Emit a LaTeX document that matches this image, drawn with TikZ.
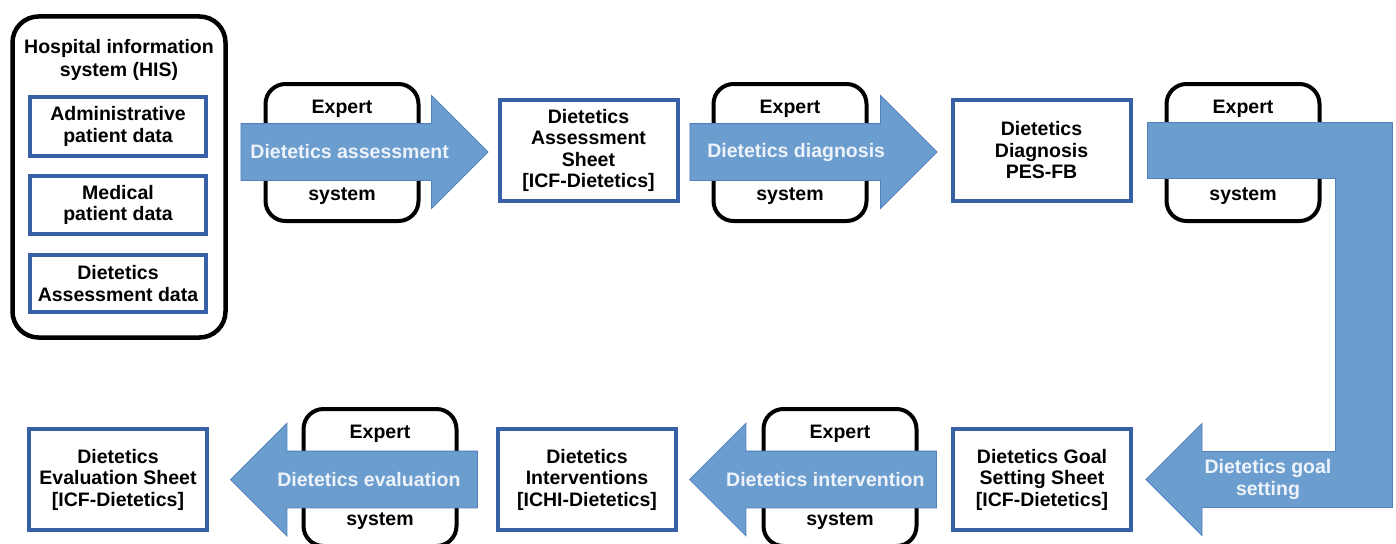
\documentclass[tikz,border=0pt]{standalone}
\usepackage{fontspec}
\setmainfont{Liberation Sans}
\usepackage{tikz}
\definecolor{dietblue}{RGB}{55, 96, 166}
\definecolor{flowblue}{RGB}{108, 157, 207}
\definecolor{flowedge}{RGB}{82, 128, 188}
\definecolor{flowtextcol}{RGB}{238, 243, 250}
\usetikzlibrary{shapes,arrows,positioning,calc}

\begin{document}
\begin{tikzpicture}[x=1pt, y=-1pt, every node/.style={font=\fontsize{19.5}{21.5}\selectfont\bfseries, align=center},
    sheet/.style={rectangle, draw=dietblue, line width=4pt, fill=white, minimum width=178pt, minimum height=101pt, inner sep=1pt},
    expert/.style={rectangle, rounded corners=20pt, draw=black, line width=4pt, fill=white, minimum width=153pt, minimum height=137pt},
    flow/.style={single arrow, draw=flowedge, line width=0.8pt, fill=flowblue, minimum height=247pt, inner xsep=0pt, inner ysep=28pt, single arrow head extend=28pt},
    flowtext/.style={text=flowtextcol}]
    \useasboundingbox (0,0) rectangle (1396,543);

    % Hospital information system
    \node[rectangle, rounded corners=26pt, draw=black, line width=4.5pt, minimum width=213pt, minimum height=321pt] (his) at (119,177) {};
    \node (hisTitle) at (119,60) {Hospital information\\[1pt]system (HIS)};
    \node[sheet, minimum width=176pt, minimum height=59pt] (admin) at (118,126.5) {Administrative\\patient data};
    \node[sheet, minimum width=176pt, minimum height=58pt] (medical) at (118,205) {Medical\\patient data};
    \node[sheet, minimum width=176pt, minimum height=57pt] (assessData) at (118,283.5) {Dietetics\\Assessment data};

    % Sheets
    \node[sheet] (assessSheet) at (588.5,150.5) {Dietetics\\Assessment\\Sheet\\{[}ICF-Dietetics{]}};
    \node[sheet] (diagSheet) at (1041.5,150.5) {Dietetics\\Diagnosis\\PES-FB};
    \node[sheet] (evalSheet) at (118,479.5) {Dietetics\\Evaluation Sheet\\{[}ICF-Dietetics{]}};
    \node[sheet] (intervSheet) at (587,479.5) {Dietetics\\Interventions\\{[}ICHI-Dietetics{]}};
    \node[sheet] (goalSheet) at (1042,479.5) {Dietetics Goal\\Setting Sheet\\{[}ICF-Dietetics{]}};

    % Expert systems
    \node[expert] (expAssess) at (342,152.5) {Expert\\[65pt]system};
    \node[expert] (expDiag) at (790,152.5) {Expert\\[65pt]system};
    \node[expert] (expGoal) at (1243,152.5) {Expert\\[65pt]system};
    \node[expert] (expEval) at (380,477.5) {Expert\\[65pt]system};
    \node[expert] (expInterv) at (840,477.5) {Expert\\[65pt]system};

    % Arrows
    \node[flow, anchor=tip] (assessArrow) at ([xshift=-9pt, yshift=-1.5pt]assessSheet.west) {};
    \node[flow, anchor=tip] (diagArrow) at ([xshift=-13pt, yshift=-1.5pt]diagSheet.west) {};
    \node[flow, shape border rotate=180, anchor=tip] (evalArrow) at ([xshift=21pt]evalSheet.east) {};
    \node[flow, shape border rotate=180, anchor=tip] (intervArrow) at ([xshift=11pt]intervSheet.east) {};

    \node[flowtext] (assessText) at ($(assessArrow.tail)!0.44!(assessArrow.tip)$) {Dietetics assessment};
    \node[flowtext] (diagText) at ($(diagArrow.tail)!0.43!(diagArrow.tip)$) {Dietetics diagnosis};
    \node[flowtext] (evalText) at ($(evalArrow.tail)!0.44!(evalArrow.tip)$) {Dietetics evaluation};
    \node[flowtext] (intervText) at ($(intervArrow.tail)!0.45!(intervArrow.tip)$) {Dietetics intervention};

    % Goal setting arrow
    \coordinate (goalTail) at ([xshift=15pt]diagSheet.east);
    \coordinate (goalTip) at ([xshift=13pt]goalSheet.east);
    \draw[draw=flowedge, line width=0.8pt, fill=flowblue] ($(goalTail)+(0,-28)$) -- ++(245,0) |- ($(goalTip)+(56,28)$)
        -- ++(0,28) -- (goalTip) -- ++(56,-56) -- ++(0,28) -| ($(goalTail)+(188,28)$) -- ($(goalTail)+(0,28)$) -- cycle;
    \node[flowtext] (goalText) at ([xshift=122pt]goalTip) {Dietetics goal\\setting};
\end{tikzpicture}
\end{document}
